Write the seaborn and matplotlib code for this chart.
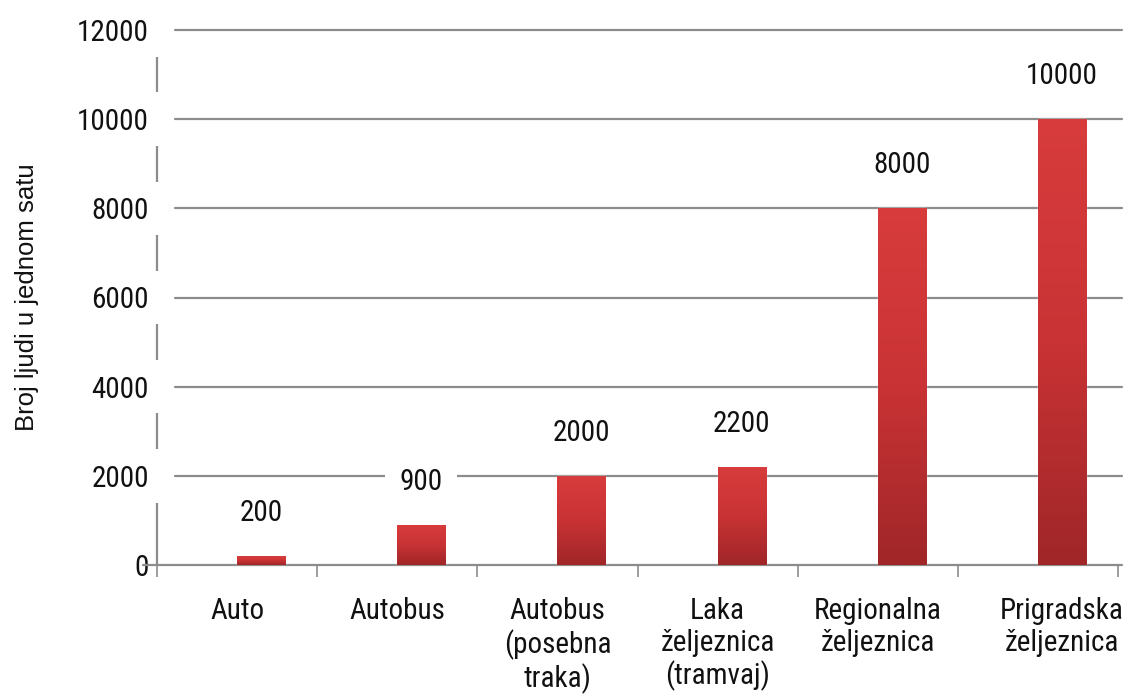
import numpy as np
import pandas as pd
import matplotlib
matplotlib.use("Agg")
import matplotlib.pyplot as plt
import seaborn as sns
from matplotlib import font_manager
from matplotlib.colors import LinearSegmentedColormap

# ---------------- data ----------------
categories = [
    "Auto",
    "Autobus",
    "Autobus\n(posebna\ntraka)",
    "Laka\nželjeznica\n(tramvaj)",
    "Regionalna\nželjeznica",
    "Prigradska\nželjeznica",
]
values = [200, 900, 2000, 2200, 8000, 10000]
y_ticks = [0, 2000, 4000, 6000, 8000, 10000, 12000]
y_label = "Broj ljudi u jednom satu"

# ---------------- style ----------------
sns.set_theme(style="white")
available = {f.name for f in font_manager.fontManager.ttflist}
narrow = "Liberation Sans"
for cand in ["Liberation Sans Narrow", "Arial Narrow", "Nimbus Sans Narrow",
             "Roboto Condensed", "PT Sans Narrow", "Archivo Narrow"]:
    if cand in available:
        narrow = cand
        break
plt.rcParams["font.family"] = ["Liberation Sans", "DejaVu Sans"]

grid_c = "#8c8c8c"
text_c = "#111111"

W, H = 1132, 696
fig = plt.figure(figsize=(W / 100, H / 100), dpi=100)
fig.patch.set_facecolor("white")
ax = fig.add_axes([157 / W, 131 / H, 961 / W, 535 / H])
ax.set_facecolor("white")

df = pd.DataFrame({"cat": categories, "val": values})
sns.barplot(data=df, x="cat", y="val", color="#c83335", saturation=1,
            width=0.3, ax=ax, zorder=3, errorbar=None)

n = len(categories)
offset = 0.15  # bars sit slightly right of each slot centre
xlim = (-0.5 - offset, n - 0.5 - offset)
ylim = (0, y_ticks[-1])

# gradient fill for each bar
cmap = LinearSegmentedColormap.from_list("bar", ["#a02628", "#c93335", "#d83c3c"])
grad = np.linspace(0, 1, 256).reshape(-1, 1)
bars = list(ax.containers[0])
for bar in bars:
    x0, w, h = bar.get_x(), bar.get_width(), bar.get_height()
    im = ax.imshow(grad, extent=[x0, x0 + w, 0, h], origin="lower",
                   aspect="auto", cmap=cmap, zorder=3.1, interpolation="bilinear")
    im.set_clip_path(bar)

ax.set_xlim(*xlim)
ax.set_ylim(*ylim)

# spines off, custom axis lines
for s in ax.spines.values():
    s.set_visible(False)
ax.grid(False)

span_px = 961
for t in y_ticks[1:]:
    ax.axhline(t, xmin=18 / span_px, xmax=1 + 4 / span_px, color=grid_c,
               lw=1.6, zorder=1, clip_on=False)
ax.axhline(0, xmin=-14 / span_px, xmax=1 + 4 / span_px, color=grid_c,
           lw=1.6, zorder=2, clip_on=False)

# broken left axis line between the tick labels
ytr = ax.get_yaxis_transform()
for lo, hi in zip(y_ticks[:-1], y_ticks[1:]):
    step = hi - lo
    start = lo if lo == 0 else lo + 0.3 * step
    end = hi - 0.3 * step
    ax.plot([0, 0], [start, end], transform=ytr, color=grid_c, lw=1.6,
            clip_on=False, zorder=2, solid_capstyle="butt")

# x ticks: minor boundaries, major labels
boundaries = np.arange(n + 1) - 0.5 - offset
ax.set_xticks(boundaries, minor=True)
label_pos = np.arange(n, dtype=float) - offset
label_pos[-1] = n - 1
ax.set_xticks(label_pos)
ax.set_xticklabels(categories, fontsize=21, family=narrow, color=text_c,
                   linespacing=1.17)
ax.tick_params(axis="x", which="major", length=0, pad=23)
ax.tick_params(axis="x", which="minor", length=8.5, width=1.2, color=grid_c,
               direction="out", bottom=True)

ax.set_yticks(y_ticks)
ax.set_yticklabels([str(t) for t in y_ticks], fontsize=21, family=narrow,
                   color=text_c)
ax.tick_params(axis="y", length=0, pad=6)

ax.set_xlabel("")
ax.set_ylabel(y_label, fontsize=18.5, color=text_c, family="Liberation Sans")
ax.yaxis.set_label_coords(-0.123, 0.5)

# value labels
for bar, v in zip(bars, values):
    ax.annotate(f"{v}", xy=(bar.get_x() + bar.get_width() / 2, bar.get_height()),
                xytext=(0, 31), textcoords="offset points", ha="center",
                va="center", fontsize=21, family=narrow, color=text_c,
                bbox=dict(boxstyle="square,pad=0.5", fc="white", ec="none"),
                zorder=6)

fig.savefig("out.png", dpi=100, facecolor="white")
